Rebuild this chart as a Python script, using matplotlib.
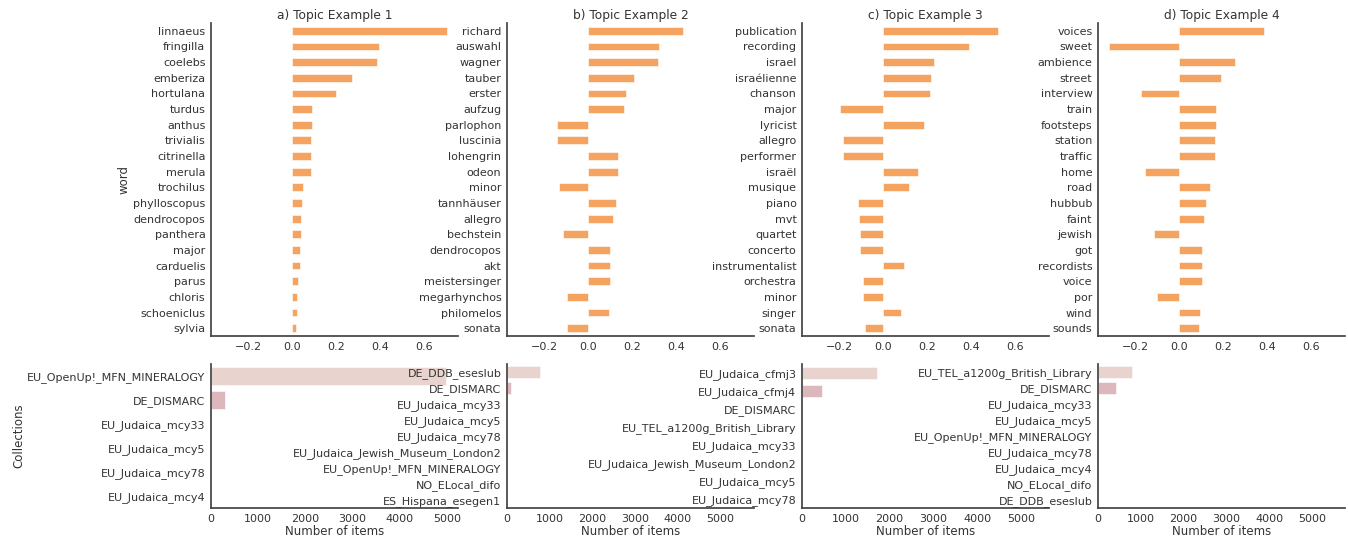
import matplotlib
matplotlib.use("Agg")
import matplotlib.pyplot as plt

# topic word weights (top row)
titles = ["a) Topic Example 1", "b) Topic Example 2", "c) Topic Example 3", "d) Topic Example 4"]

words_1 = ["linnaeus", "fringilla", "coelebs", "emberiza", "hortulana", "turdus", "anthus",
           "trivialis", "citrinella", "merula", "trochilus", "phylloscopus", "dendrocopos",
           "panthera", "major", "carduelis", "parus", "chloris", "schoeniclus", "sylvia"]
weights_1 = [0.705, 0.395, 0.387, 0.271, 0.198, 0.092, 0.092, 0.087, 0.087, 0.087,
             0.049, 0.046, 0.041, 0.038, 0.037, 0.037, 0.028, 0.023, 0.023, 0.018]

words_2 = ["richard", "auswahl", "wagner", "tauber", "erster", "aufzug", "parlophon",
           "luscinia", "lohengrin", "odeon", "minor", "tannhäuser", "allegro", "bechstein",
           "dendrocopos", "akt", "meistersinger", "megarhynchos", "philomelos", "sonata"]
weights_2 = [0.432, 0.325, 0.319, 0.211, 0.172, 0.164, -0.144, -0.144, 0.136, 0.136,
             -0.132, 0.129, 0.113, -0.116, 0.100, 0.098, 0.098, -0.098, 0.095, -0.098]

words_3 = ["publication", "recording", "israel", "israélienne", "chanson", "major",
           "lyricist", "allegro", "performer", "israël", "musique", "piano", "mvt",
           "quartet", "concerto", "instrumentalist", "orchestra", "minor", "singer", "sonata"]
weights_3 = [0.525, 0.391, 0.231, 0.216, 0.214, -0.198, 0.185, -0.182, -0.182, 0.158,
             0.119, -0.115, -0.109, -0.107, -0.107, 0.097, -0.094, -0.090, 0.080, -0.081]

words_4 = ["voices", "sweet", "ambience", "street", "interview", "train", "footsteps",
           "station", "traffic", "home", "road", "hubbub", "faint", "jewish", "got",
           "recordists", "voice", "por", "wind", "sounds"]
weights_4 = [0.389, -0.319, 0.254, 0.190, -0.175, 0.170, 0.169, 0.164, 0.164, -0.158,
             0.141, 0.123, 0.115, -0.116, 0.106, 0.104, 0.104, -0.100, 0.095, 0.092]

# collections per topic (bottom row)
coll_1 = ["EU_OpenUp!_MFN_MINERALOGY", "DE_DISMARC", "EU_Judaica_mcy33", "EU_Judaica_mcy5",
          "EU_Judaica_mcy78", "EU_Judaica_mcy4"]
items_1 = [4980, 300, 3, 2, 2, 1]

coll_2 = ["DE_DDB_eseslub", "DE_DISMARC", "EU_Judaica_mcy33", "EU_Judaica_mcy5",
          "EU_Judaica_mcy78", "EU_Judaica_Jewish_Museum_London2", "EU_OpenUp!_MFN_MINERALOGY",
          "NO_ELocal_difo", "ES_Hispana_esegen1"]
items_2 = [766, 103, 3, 2, 2, 2, 1, 1, 1]

coll_3 = ["EU_Judaica_cfmj3", "EU_Judaica_cfmj4", "DE_DISMARC", "EU_TEL_a1200g_British_Library",
          "EU_Judaica_mcy33", "EU_Judaica_Jewish_Museum_London2", "EU_Judaica_mcy5",
          "EU_Judaica_mcy78"]
items_3 = [1712, 457, 3, 2, 2, 1, 1, 1]

coll_4 = ["EU_TEL_a1200g_British_Library", "DE_DISMARC", "EU_Judaica_mcy33", "EU_Judaica_mcy5",
          "EU_OpenUp!_MFN_MINERALOGY", "EU_Judaica_mcy78", "EU_Judaica_mcy4",
          "NO_ELocal_difo", "DE_DDB_eseslub"]
items_4 = [794, 413, 3, 2, 2, 1, 1, 1, 1]

# upper x limit of each collections panel
items_xmax = [5230, 5780, 5640, 5770]

coll_colors = ["#e9d3cf", "#dcb7bc", "#d09dab", "#c2849c", "#b06b8f",
               "#995582", "#7f4373", "#643462", "#4a2650"]

words = [words_1, words_2, words_3, words_4]
weights = [weights_1, weights_2, weights_3, weights_4]
colls = [coll_1, coll_2, coll_3, coll_4]
items = [items_1, items_2, items_3, items_4]

TXT = "#333333"
plt.rcParams["font.family"] = "DejaVu Sans"
plt.rcParams["text.color"] = TXT
plt.rcParams["axes.labelcolor"] = TXT
plt.rcParams["xtick.color"] = TXT
plt.rcParams["ytick.color"] = TXT

W, H = 1348, 541
fig = plt.figure(figsize=(W / 100, H / 100), dpi=100)

lefts = [211, 507, 802, 1098]
aw = 247


def style(ax):
    for s in ["top", "right"]:
        ax.spines[s].set_visible(False)
    for s in ["left", "bottom"]:
        ax.spines[s].set_color("#444444")
        ax.spines[s].set_linewidth(1.25)
    ax.tick_params(length=0, labelsize=8, pad=4)


top_axes = []
for i in range(4):
    l = lefts[i] / W
    ax = fig.add_axes([l, 1 - 336 / H, aw / W, (336 - 23) / H],
                      sharex=top_axes[0] if top_axes else None)
    top_axes.append(ax)
    n = len(words[i])
    ax.barh(range(n), weights[i], height=0.5, color="sandybrown", edgecolor="white", linewidth=0.4)
    ax.set_yticks(range(n))
    ax.set_yticklabels(words[i])
    ax.set_ylim(n - 0.5, -0.5)
    ax.set_title(titles[i], fontsize=8.8, pad=3)
    style(ax)

    bx = fig.add_axes([l, 1 - 508 / H, aw / W, (508 - 364) / H])
    m = len(colls[i])
    bx.barh(range(m), items[i], height=0.72, color=coll_colors[:m], edgecolor="white", linewidth=0.4)
    bx.set_yticks(range(m))
    bx.set_yticklabels(colls[i])
    bx.set_ylim(m - 0.5, -0.5)
    bx.set_xlim(0, items_xmax[i])
    bx.set_xlabel("Number of items", fontsize=8.5, labelpad=1)
    bx.set_xticks([0, 1000, 2000, 3000, 4000, 5000])
    style(bx)
    if i == 0:
        bx.set_ylabel("Collections", fontsize=8.5, labelpad=1)

top_axes[0].set_xticks([-0.2, 0.0, 0.2, 0.4, 0.6])
top_axes[0].set_ylabel("word", fontsize=8.5, labelpad=2)

fig.savefig("out.png", dpi=100)
